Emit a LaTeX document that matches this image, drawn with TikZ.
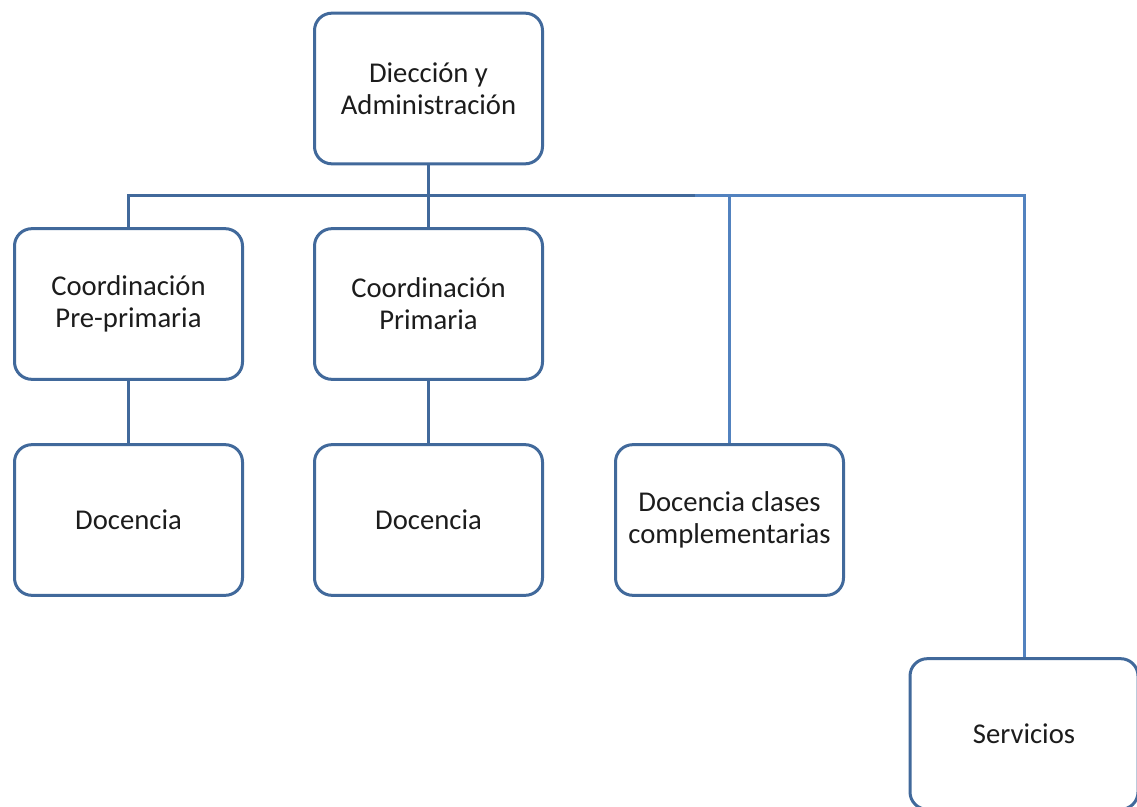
\documentclass[tikz,border=0pt]{standalone}
\usepackage{fontspec}
\setmainfont{Carlito}
\usepackage{xcolor}
\usetikzlibrary{positioning}
\definecolor{orgline}{HTML}{41699B}
\definecolor{orglight}{HTML}{5282BF}
\definecolor{orgtext}{HTML}{1C1C1C}

\begin{document}
\begin{tikzpicture}[x=0.75pt,y=-0.75pt,
  unit/.style={draw=orgline,line width=2.25pt,fill=white,rounded corners=13pt,
    minimum width=171pt,minimum height=113pt,align=center,text=orgtext,
    font=\fontsize{21.5}{24}\selectfont},
  link/.style={orgline,line width=2.25pt},
  linkl/.style={orglight,line width=2.25pt}]
\clip (0,0) rectangle (1137,806);
\useasboundingbox (0,0) rectangle (1137,806);
\node[unit] (dir) at (428.5, 88.5) {Diección y\\Administración};
\node[unit] (prep) at (128.5, 304) {Coordinación\\Pre-primaria};
\node[unit] (prim) at (428.5, 304) {Coordinación\\Primaria};
\node[unit] (docA) at (128.5, 520) {Docencia};
\node[unit] (docB) at (428.5, 520) {Docencia};
\node[unit] (comp) at (729.5, 520) {Docencia clases\\complementarias};
\node[unit] (serv) at (1024, 734) {Servicios};
\coordinate (busL) at (128.5, 195);
\coordinate (busM) at (428.5, 195);
\coordinate (busS) at (695, 195);
\coordinate (busR) at (1024, 195);
% ramas
\draw[linkl] (busS) -- (busR) -- (serv.north);
\draw[linkl] (comp.north) -- (comp.north |- busS);
\draw[link] (prep.north) -- (busL) -- (busS);
\draw[link] (dir.south) -- (busM) -- (prim.north);
\draw[link] (prep.south) -- (docA.north);
\draw[link] (prim.south) -- (docB.north);
\end{tikzpicture}
\end{document}
